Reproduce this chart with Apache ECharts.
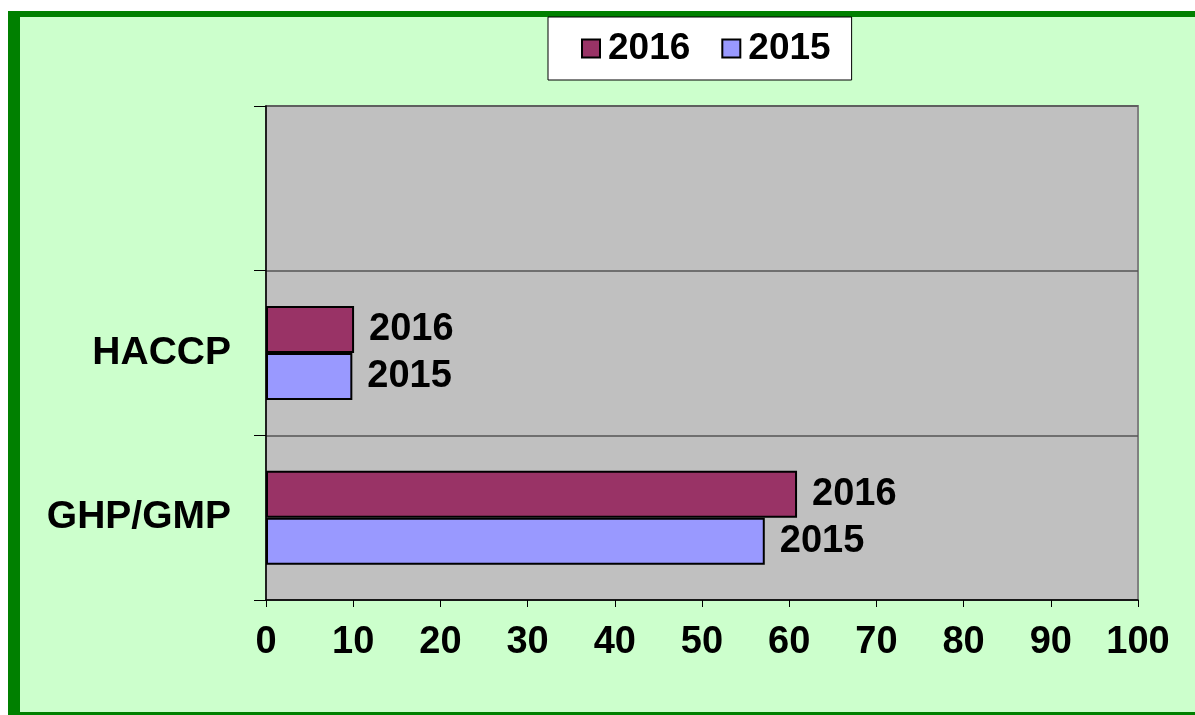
<!DOCTYPE html>
<html>
<head>
<meta charset="utf-8">
<title>HACCP / GHP/GMP</title>
<script src="https://cdn.jsdelivr.net/npm/echarts@6/dist/echarts.min.js"></script>
<style>
  html, body { margin: 0; padding: 0; background: #fff; }
  #frame {
    position: absolute; left: 8px; top: 11px; width: 1187px; height: 695px;
    background: #CCFFCC;
    border-left: 12px solid #008000;
    border-top: 6px solid #008000;
    border-bottom: 3px solid #008000;
    box-sizing: content-box;
  }
  #chart { position: absolute; left: 0; top: 0; width: 1195px; height: 715px; }
</style>
</head>
<body>
<div id="frame"></div>
<div id="chart"></div>
<script>
// categories bottom -> top (the top band is empty)
var categories = ['GHP/GMP', 'HACCP', '']
var data2016 = [60.9, 10.1, null]
var data2015 = [57.2, 9.9, null]
var xTicks = [0, 10, 20, 30, 40, 50, 60, 70, 80, 90, 100]

var FONT = '"Liberation Sans", Arial, sans-serif'

var chart = echarts.init(document.getElementById('chart'))

function barSeries(name, values, color) {
  return {
    name: name,
    type: 'bar',
    data: values,
    barWidth: 47,
    barGap: '0%',
    itemStyle: {
      color: color,
      borderColor: '#000',
      borderWidth: 2
    },
    label: {
      show: true,
      position: 'right',
      distance: 15,
      formatter: '{a}',
      color: '#000',
      fontFamily: FONT,
      fontWeight: 'bold',
      fontSize: 38
    },
    animation: false
  }
}

chart.setOption({
  backgroundColor: 'transparent',
  textStyle: { fontFamily: FONT },
  legend: {
    data: ['2016', '2015'],
    left: 548,
    top: 17,
    padding: [13, 21, 13, 33],
    icon: 'rect',
    itemWidth: 18,
    itemHeight: 18,
    itemGap: 31,
    backgroundColor: '#fff',
    borderColor: '#000',
    borderWidth: 1,
    textStyle: {
      color: '#000',
      fontFamily: FONT,
      fontWeight: 'bold',
      fontSize: 37,
      padding: [0, 0, 0, 3]
    }
  },
  grid: {
    left: 266,
    right: 57,
    top: 106,
    bottom: 115,
    show: true,
    backgroundColor: '#C0C0C0',
    borderColor: '#808080',
    borderWidth: 2
  },
  xAxis: {
    type: 'value',
    min: xTicks[0],
    max: xTicks[xTicks.length - 1],
    interval: 10,
    splitLine: { show: false },
    axisLine: { show: true, lineStyle: { color: '#000', width: 1.5 } },
    axisTick: { show: true, length: 7, lineStyle: { color: '#000' } },
    axisLabel: {
      margin: 24,
      color: '#000',
      fontFamily: FONT,
      fontWeight: 'bold',
      fontSize: 38
    }
  },
  yAxis: {
    type: 'category',
    data: categories,
    axisLine: { show: true, lineStyle: { color: '#000', width: 1.5 } },
    axisTick: { show: true, length: 12, inside: false, lineStyle: { color: '#000' } },
    splitLine: { show: true, lineStyle: { color: '#555', width: 1.5 } },
    axisLabel: {
      margin: 35,
      color: '#000',
      fontFamily: FONT,
      fontWeight: 'bold',
      fontSize: 39
    }
  },
  series: [
    barSeries('2016', data2016, '#993366'),
    barSeries('2015', data2015, '#9999FF')
  ]
})
</script>
</body>
</html>
